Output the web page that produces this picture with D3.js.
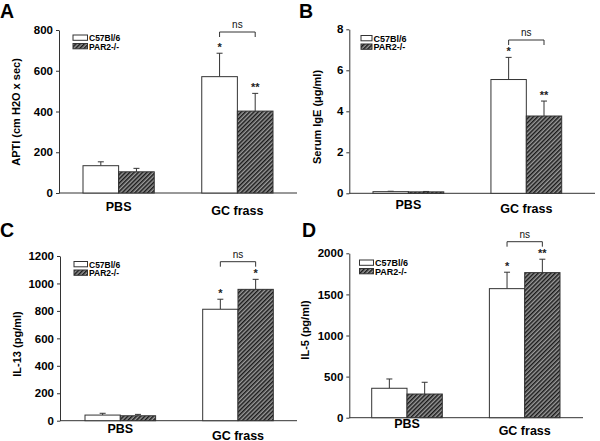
<!DOCTYPE html>
<html><head><meta charset="utf-8">
<script src="https://cdn.jsdelivr.net/npm/d3@7"></script>
<style>
html,body{margin:0;padding:0;background:#fff;}
svg{display:block;font-family:"Liberation Sans",Arial,sans-serif;}
</style></head>
<body>
<svg id="chart" width="600" height="441"></svg>
<script>
// ---------- data ----------
const categories = ["PBS", "GC frass"];
const seriesNames = ["C57Bl/6", "PAR2-/-"];

// Panel A: APTI
const aptiC57 = [134, 571];
const aptiC57Err = [19, 115];
const aptiPar2 = [104, 402];
const aptiPar2Err = [17, 87];
const aptiTicks = [0, 200, 400, 600, 800];
const aptiC57Stars = ["", "*"];
const aptiPar2Stars = ["", "**"];

// Panel B: Serum IgE
const igeC57 = [0.08, 5.55];
const igeC57Err = [0.02, 1.08];
const igePar2 = [0.07, 3.77];
const igePar2Err = [0.02, 0.73];
const igeTicks = [0, 2, 4, 6, 8];
const igeC57Stars = ["", "*"];
const igePar2Stars = ["", "**"];

// Panel C: IL-13
const il13C57 = [41, 812];
const il13C57Err = [13, 73];
const il13Par2 = [36, 957];
const il13Par2Err = [10, 73];
const il13Ticks = [0, 200, 400, 600, 800, 1000, 1200];
const il13C57Stars = ["", "*"];
const il13Par2Stars = ["", "*"];

// Panel D: IL-5
const il5C57 = [358, 1570];
const il5C57Err = [113, 200];
const il5Par2 = [288, 1765];
const il5Par2Err = [143, 163];
const il5Ticks = [0, 500, 1000, 1500, 2000];
const il5C57Stars = ["", "*"];
const il5Par2Stars = ["", "**"];

const panelLetters = ["A", "B", "C", "D"];
const yTitles = ["APTI (cm H2O x sec)", "Serum IgE (\u03bcg/ml)", "IL-13 (pg/ml)", "IL-5 (pg/ml)"];

// ---------- drawing ----------
const svg = d3.select("#chart");
const defs = svg.append("defs");
const pat = defs.append("pattern").attr("id", "hatch")
  .attr("patternUnits", "userSpaceOnUse").attr("width", 3).attr("height", 3)
  .attr("patternTransform", "rotate(45)");
pat.append("rect").attr("width", 3).attr("height", 3).attr("fill", "#9a9a9a");
pat.append("line").attr("x1", 0.75).attr("y1", 0).attr("x2", 0.75).attr("y2", 3)
  .attr("stroke", "#1a1a1a").attr("stroke-width", 1.5);

const INK = "#333";

const panels = [
  { letter: panelLetters[0], letterX: 0, letterY: 18, title: yTitles[0], titleX: 17, titleY: 112,
    ticks: aptiTicks, axisX: 59, yTop: 30, yBot: 193, xEnd: 297, barRange: [83, 273],
    series: [[aptiC57, aptiC57Err, aptiC57Stars], [aptiPar2, aptiPar2Err, aptiPar2Stars]],
    bracketY: 32, labelY: [211, 214.5], legX: 73, legY: 34.5, legBoxW: 14.5, legFont: 8.5 },
  { letter: panelLetters[1], letterX: 299, letterY: 18, title: yTitles[1], titleX: 318, titleY: 117,
    ticks: igeTicks, axisX: 349.3, yTop: 29.3, yBot: 193.3, xEnd: 595, barRange: [373, 561.7],
    series: [[igeC57, igeC57Err, igeC57Stars], [igePar2, igePar2Err, igePar2Stars]],
    bracketY: 40, labelY: [209, 213], legX: 361, legY: 35, legBoxW: 11, legFont: 9 },
  { letter: panelLetters[2], letterX: 0, letterY: 237, title: yTitles[2], titleX: 18, titleY: 344,
    ticks: il13Ticks, axisX: 60, yTop: 256, yBot: 420.7, xEnd: 297, barRange: [85, 273.3],
    series: [[il13C57, il13C57Err, il13C57Stars], [il13Par2, il13Par2Err, il13Par2Stars]],
    bracketY: 261.7, labelY: [433, 439.5], legX: 74, legY: 261, legBoxW: 13.5, legFont: 8.5 },
  { letter: panelLetters[3], letterX: 302, letterY: 237, title: yTitles[3], titleX: 306, titleY: 330,
    ticks: il5Ticks, axisX: 349.3, yTop: 253.3, yBot: 417.7, xEnd: 583, barRange: [371.7, 560],
    series: [[il5C57, il5C57Err, il5C57Stars], [il5Par2, il5Par2Err, il5Par2Stars]],
    bracketY: 241.7, labelY: [428, 434.5], legX: 359.5, legY: 259.5, legBoxW: 14, legFont: 9 }
];

function drawPanel(p) {
  const g = svg.append("g");
  const yMax = p.ticks[p.ticks.length - 1];
  const y = d3.scaleLinear().domain([0, yMax]).range([p.yBot, p.yTop]);
  const x0 = d3.scaleBand().domain(categories).range(p.barRange).paddingInner(0.4);
  const x1 = d3.scaleBand().domain(seriesNames).range([0, x0.bandwidth()]);

  // panel letter
  g.append("text").attr("x", p.letterX).attr("y", p.letterY)
    .attr("font-size", 19.5).attr("font-weight", "bold").attr("fill", "#000").text(p.letter);

  // y axis
  const ax = g.append("g").attr("transform", `translate(${p.axisX},0)`)
    .call(d3.axisLeft(y).tickValues(p.ticks).tickSize(3).tickSizeOuter(0).tickPadding(3).tickFormat(d3.format("d")));
  ax.select(".domain").attr("stroke", INK);
  ax.selectAll(".tick line").attr("stroke", INK);
  ax.selectAll(".tick text").attr("font-size", 11.5).attr("font-weight", "bold")
    .attr("fill", "#000").attr("font-family", "'Liberation Sans',Arial,sans-serif");

  // x axis line
  g.append("line").attr("x1", p.axisX).attr("x2", p.xEnd).attr("y1", p.yBot).attr("y2", p.yBot)
    .attr("stroke", INK).attr("stroke-width", 1);

  // y title
  g.append("text").attr("transform", `translate(${p.titleX},${p.titleY}) rotate(-90)`)
    .attr("text-anchor", "middle").attr("dominant-baseline", "middle")
    .attr("font-size", 11).attr("font-weight", "bold").text(p.title);

  // bars, error bars, stars
  seriesNames.forEach((s, j) => {
    const [vals, errs, stars] = p.series[j];
    categories.forEach((c, i) => {
      const bx = x0(c) + x1(s);
      const bw = x1.bandwidth();
      const cx = bx + bw / 2;
      const top = y(vals[i] + errs[i]);
      g.append("line").attr("x1", cx).attr("x2", cx).attr("y1", y(vals[i])).attr("y2", top)
        .attr("stroke", INK).attr("stroke-width", 1);
      g.append("line").attr("x1", cx - 3).attr("x2", cx + 3).attr("y1", top).attr("y2", top)
        .attr("stroke", INK).attr("stroke-width", 1);
      g.append("rect").attr("x", bx).attr("y", y(vals[i])).attr("width", bw)
        .attr("height", p.yBot - y(vals[i]))
        .attr("fill", j === 0 ? "#fff" : "url(#hatch)")
        .attr("stroke", INK).attr("stroke-width", 1);
      if (stars[i]) {
        g.append("text").attr("x", cx).attr("y", top - 2).attr("text-anchor", "middle")
          .attr("font-size", 11).attr("font-weight", "bold").attr("fill", "#222").text(stars[i]);
      }
    });
  });

  // ns bracket between the GC frass bars
  const c = categories[1];
  const xa = x0(c) + x1(seriesNames[0]) + x1.bandwidth() / 2;
  const xb = x0(c) + x1(seriesNames[1]) + x1.bandwidth() / 2;
  g.append("path").attr("d", `M${xa},${p.bracketY + 5}V${p.bracketY}H${xb}V${p.bracketY + 5}`)
    .attr("fill", "none").attr("stroke", INK).attr("stroke-width", 1);
  g.append("text").attr("x", (xa + xb) / 2).attr("y", p.bracketY - 4).attr("text-anchor", "middle")
    .attr("font-size", 10).attr("fill", "#111").text("ns");

  // x labels
  categories.forEach((cat, i) => {
    g.append("text").attr("x", x0(cat) + x0.bandwidth() / 2).attr("y", p.labelY[i])
      .attr("text-anchor", "middle").attr("font-size", 12.5).attr("font-weight", "bold").text(cat);
  });

  // legend
  seriesNames.forEach((s, j) => {
    const ly = p.legY + j * 8.5;
    g.append("rect").attr("x", p.legX).attr("y", ly + 0.5).attr("width", p.legBoxW).attr("height", 5.3)
      .attr("fill", j === 0 ? "#fff" : "url(#hatch)").attr("stroke", INK).attr("stroke-width", 1);
    g.append("text").attr("x", p.legX + p.legBoxW + 1.5).attr("y", ly + 6.5)
      .attr("font-size", p.legFont).attr("font-weight", "bold").text(s);
  });
}

panels.forEach(drawPanel);
</script>
</body></html>
